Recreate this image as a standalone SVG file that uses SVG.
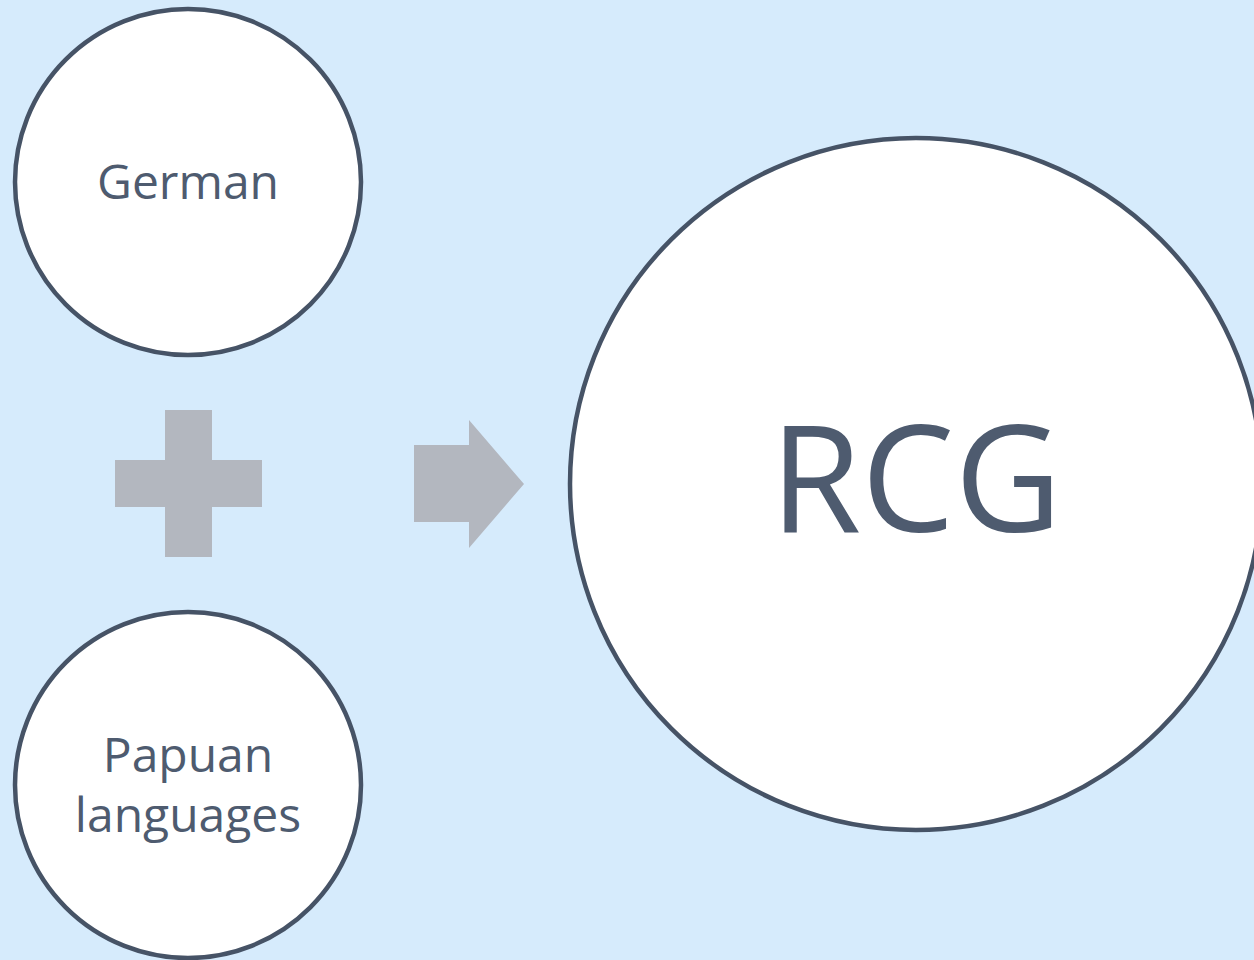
<svg xmlns="http://www.w3.org/2000/svg" width="1254" height="960" viewBox="0 0 1254 960">
<style>
.node{fill:#fff;stroke:#465366;stroke-width:4.5}
.lbl{font-family:"Open Sans","Liberation Sans",sans-serif;fill:#4E5B6F;text-anchor:middle}
.sym{fill:#B3B7BF}
</style>
<rect width="1254" height="960" fill="#D6EBFC"/>
<g id="connectors">
<path class="sym" d="M165,410H212V460H262V507H212V557H165V507H115V460H165Z"/>
<path class="sym" d="M414,445H469V420L524,484L469,548V522H414Z"/>
</g>
<g id="german">
<circle class="node" cx="188" cy="182" r="173"/>
<text class="lbl" x="188" y="199" font-size="48">German</text>
</g>
<g id="papuan">
<circle class="node" cx="188" cy="785" r="173"/>
<text class="lbl" x="188" y="772" font-size="48">Papuan</text>
<text class="lbl" x="188" y="832" font-size="48">languages</text>
</g>
<g id="rcg">
<circle class="node" cx="916" cy="484" r="346"/>
<text class="lbl" x="916" y="532" font-size="148">RCG</text>
</g>
</svg>
